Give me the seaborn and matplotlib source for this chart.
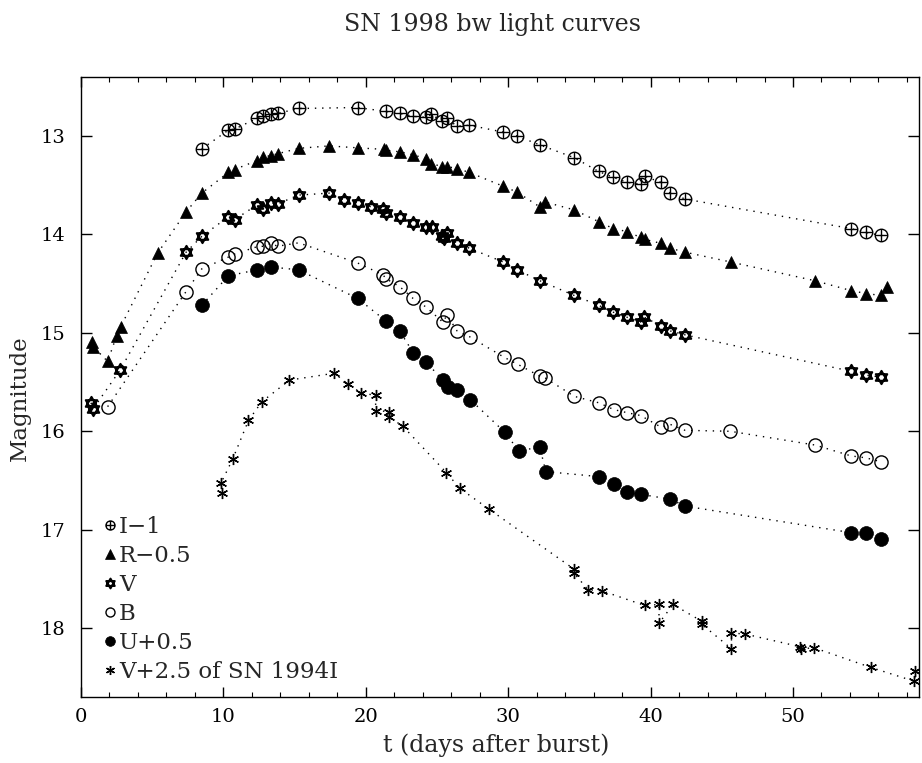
import numpy as np
import pandas as pd
import matplotlib
matplotlib.use("Agg")
import matplotlib.pyplot as plt
import seaborn as sns
from matplotlib.path import Path
from matplotlib.lines import Line2D
from matplotlib.ticker import MultipleLocator

# ---------------- data (as plotted) ----------------
t_I = [8.48, 10.35, 10.78, 12.35, 12.79, 13.33, 13.80, 15.28, 19.43, 21.42, 22.38, 23.32, 24.23, 24.60,
       25.36, 25.71, 26.39, 27.28, 29.65, 30.63, 32.22, 34.64, 36.35, 37.38, 38.32, 39.30, 39.61, 40.71,
       41.38, 42.42, 54.07, 55.13, 56.18]
m_I = [13.13, 12.94, 12.93, 12.82, 12.80, 12.78, 12.77, 12.72, 12.71, 12.75, 12.77, 12.80, 12.81, 12.78,
       12.85, 12.82, 12.90, 12.89, 12.96, 13.00, 13.09, 13.22, 13.36, 13.42, 13.47, 13.49, 13.41, 13.47,
       13.58, 13.64, 13.94, 13.98, 14.01]

t_R = [0.79, 0.86, 1.87, 2.50, 2.78, 5.38, 7.38, 8.48, 10.35, 10.78, 12.35, 12.79, 13.33, 13.80, 15.28,
       17.43, 19.43, 21.25, 21.42, 22.38, 23.32, 24.23, 24.60, 25.36, 25.71, 26.39, 27.28, 29.65, 30.63,
       32.22, 32.57, 34.64, 36.35, 37.38, 38.32, 39.30, 39.61, 40.71, 41.38, 42.42, 45.63, 51.54, 54.07,
       55.13, 56.18, 56.58]
m_R = [15.09, 15.14, 15.29, 15.03, 14.94, 14.19, 13.77, 13.58, 13.37, 13.34, 13.25, 13.21, 13.20, 13.18,
       13.125, 13.10, 13.12, 13.135, 13.145, 13.16, 13.19, 13.23, 13.28, 13.31, 13.31, 13.33, 13.37, 13.51,
       13.57, 13.72, 13.67, 13.75, 13.87, 13.94, 13.97, 14.03, 14.05, 14.09, 14.14, 14.18, 14.28, 14.47,
       14.57, 14.60, 14.62, 14.53]

t_V = [0.70, 0.86, 2.74, 7.38, 8.48, 10.35, 10.78, 12.35, 12.79, 13.33, 13.80, 15.28, 17.43, 18.44, 19.43,
       20.39, 21.21, 21.42, 22.38, 23.32, 24.23, 24.65, 25.36, 25.47, 25.71, 26.39, 27.28, 29.65, 30.63,
       32.22, 34.64, 36.35, 37.38, 38.32, 39.30, 39.54, 40.76, 41.38, 42.42, 54.07, 55.13, 56.18]
m_V = [15.71, 15.77, 15.38, 14.18, 14.02, 13.82, 13.85, 13.70, 13.74, 13.68, 13.69, 13.60, 13.58, 13.65,
       13.68, 13.72, 13.74, 13.78, 13.82, 13.88, 13.92, 13.92, 14.02, 14.04, 13.99, 14.09, 14.14, 14.28,
       14.36, 14.47, 14.62, 14.72, 14.79, 14.84, 14.89, 14.84, 14.93, 14.98, 15.02, 15.39, 15.43, 15.45]

t_B = [1.87, 7.38, 8.48, 10.35, 10.78, 12.35, 12.79, 13.33, 13.80, 15.28, 19.43, 21.21, 21.42, 22.38, 23.32,
       24.26, 25.40, 25.71, 26.41, 27.30, 29.74, 30.68, 32.22, 32.62, 34.64, 36.35, 37.43, 38.32, 39.30,
       40.76, 41.38, 42.42, 45.59, 51.56, 54.07, 55.13, 56.18]
m_B = [15.75, 14.58, 14.35, 14.23, 14.20, 14.125, 14.12, 14.09, 14.12, 14.085, 14.29, 14.41, 14.45, 14.53,
       14.65, 14.74, 14.89, 14.82, 14.98, 15.04, 15.25, 15.32, 15.44, 15.46, 15.645, 15.71, 15.78, 15.81,
       15.84, 15.96, 15.93, 15.99, 16.00, 16.14, 16.25, 16.27, 16.31]

t_U = [8.48, 10.35, 12.35, 13.33, 15.28, 19.43, 21.42, 22.38, 23.32, 24.26, 25.40, 25.78, 26.41, 27.35,
       29.76, 30.75, 32.22, 32.64, 36.35, 37.43, 38.32, 39.30, 41.38, 42.42, 54.07, 55.13, 56.18]
m_U = [14.72, 14.42, 14.36, 14.33, 14.36, 14.65, 14.88, 14.98, 15.20, 15.30, 15.48, 15.55, 15.58, 15.68,
       16.01, 16.20, 16.16, 16.41, 16.46, 16.54, 16.62, 16.64, 16.69, 16.76, 17.03, 17.03, 17.09]

t_S = [9.89, 9.82, 10.66, 11.76, 12.70, 14.64, 17.79, 18.75, 19.66, 20.69, 20.69, 21.65, 21.65, 22.61,
       25.66, 26.60, 28.64, 34.62, 34.62, 35.60, 36.56, 39.59, 40.59, 40.59, 41.58, 43.59, 43.59, 45.68,
       45.68, 46.64, 50.51, 50.56, 51.49, 55.48, 58.52, 58.60]
m_S = [16.63, 16.53, 16.28, 15.89, 15.70, 15.48, 15.41, 15.52, 15.61, 15.635, 15.79, 15.80, 15.855, 15.95,
       16.42, 16.58, 16.79, 17.40, 17.44, 17.61, 17.62, 17.77, 17.76, 17.95, 17.76, 17.93, 17.96, 18.21,
       18.05, 18.06, 18.19, 18.21, 18.20, 18.40, 18.54, 18.44]

labels = ["I\u22121", "R\u22120.5", "V", "B", "U+0.5", "V+2.5 of SN 1994I"]

# ---------------- markers ----------------
def oplus_path():
    circ = Path.unit_circle()
    h = Path([[-1, 0], [1, 0]], [Path.MOVETO, Path.LINETO])
    v = Path([[0, -1], [0, 1]], [Path.MOVETO, Path.LINETO])
    return Path.make_compound_path(circ, h, v)

def hexagram_path():
    a1 = np.deg2rad([90, 210, 330, 90])
    a2 = np.deg2rad([270, 30, 150, 270])
    p1 = Path(np.c_[np.cos(a1), np.sin(a1)], [Path.MOVETO, Path.LINETO, Path.LINETO, Path.CLOSEPOLY])
    p2 = Path(np.c_[np.cos(a2), np.sin(a2)], [Path.MOVETO, Path.LINETO, Path.LINETO, Path.CLOSEPOLY])
    return Path.make_compound_path(p1, p2)

OPLUS = oplus_path()
HEX = hexagram_path()

styles = [
    dict(marker=OPLUS, markersize=9.0, markerfacecolor="none", markeredgewidth=1.0),
    dict(marker="^", markersize=8.5, markerfacecolor="black", markeredgewidth=0.5),
    dict(marker=HEX, markersize=9.5, markerfacecolor="none", markeredgewidth=1.5),
    dict(marker="o", markersize=9.5, markerfacecolor="none", markeredgewidth=1.0),
    dict(marker="o", markersize=10.0, markerfacecolor="black", markeredgewidth=0.5),
    dict(marker=(6, 2, 0), markersize=8.0, markerfacecolor="none", markeredgewidth=1.0),
]
series = [(t_I, m_I), (t_R, m_R), (t_V, m_V), (t_B, m_B), (t_U, m_U), (t_S, m_S)]

# ---------------- figure ----------------
sns.set_theme(style="ticks")
plt.rcParams["font.family"] = ["DejaVu Serif"]
plt.rcParams["mathtext.fontset"] = "dejavuserif"

W, H = 922, 763
fig = plt.figure(figsize=(W / 100, H / 100), dpi=100)
L, R, T, B = 81, 919, 77, 697
ax = fig.add_axes([L / W, 1 - B / H, (R - L) / W, (B - T) / H])

for (t, m), st in zip(series, styles):
    df = pd.DataFrame({"t": t, "mag": m})
    sns.lineplot(data=df, x="t", y="mag", ax=ax, sort=False, estimator=None,
                 color="black", linestyle=(0, (1, 4.2)), linewidth=1.0,
                 markeredgecolor="black", **st)

ax.set_xlim(0, 58.85)
ax.set_ylim(18.7, 12.4)
ax.xaxis.set_major_locator(MultipleLocator(10))
ax.xaxis.set_minor_locator(MultipleLocator(2))
ax.yaxis.set_major_locator(MultipleLocator(1))
ax.tick_params(axis="both", which="both", direction="in", top=True, right=True,
               color="black", labelsize=14, labelcolor="black")
ax.tick_params(axis="x", which="major", length=7, width=1.0, pad=8)
ax.tick_params(axis="x", which="minor", length=3.5, width=0.8)
ax.tick_params(axis="y", which="major", length=8, width=1.0, pad=11)
for s in ax.spines.values():
    s.set_color("black")
    s.set_linewidth(1.0)
ax.set_xlabel("")
ax.set_ylabel("")

fig.text(492 / W, 1 - 25 / H, "SN 1998 bw light curves", ha="center", va="center", fontsize=17)
fig.text(496 / W, 1 - 745 / H, "t (days after burst)", ha="center", va="center", fontsize=17)
fig.text(20 / W, 1 - 398 / H, "Magnitude", ha="center", va="center", rotation=90, fontsize=16.5)

# legend
handles = []
leg_sizes = [6.5, 6.5, 7.0, 6.5, 7.0, 6.5]
for st, ms in zip(styles, leg_sizes):
    s2 = dict(st)
    s2["markersize"] = ms
    handles.append(Line2D([], [], linestyle="none", color="black", markeredgecolor="black", **s2))
ax.legend(handles, labels, loc="lower left", bbox_to_anchor=(0.01, 0.0), frameon=False,
          fontsize=16.5, handlelength=0.6, handletextpad=0.1, labelspacing=0.31,
          borderaxespad=0.2)

fig.savefig("out.png", dpi=100, facecolor="white")
